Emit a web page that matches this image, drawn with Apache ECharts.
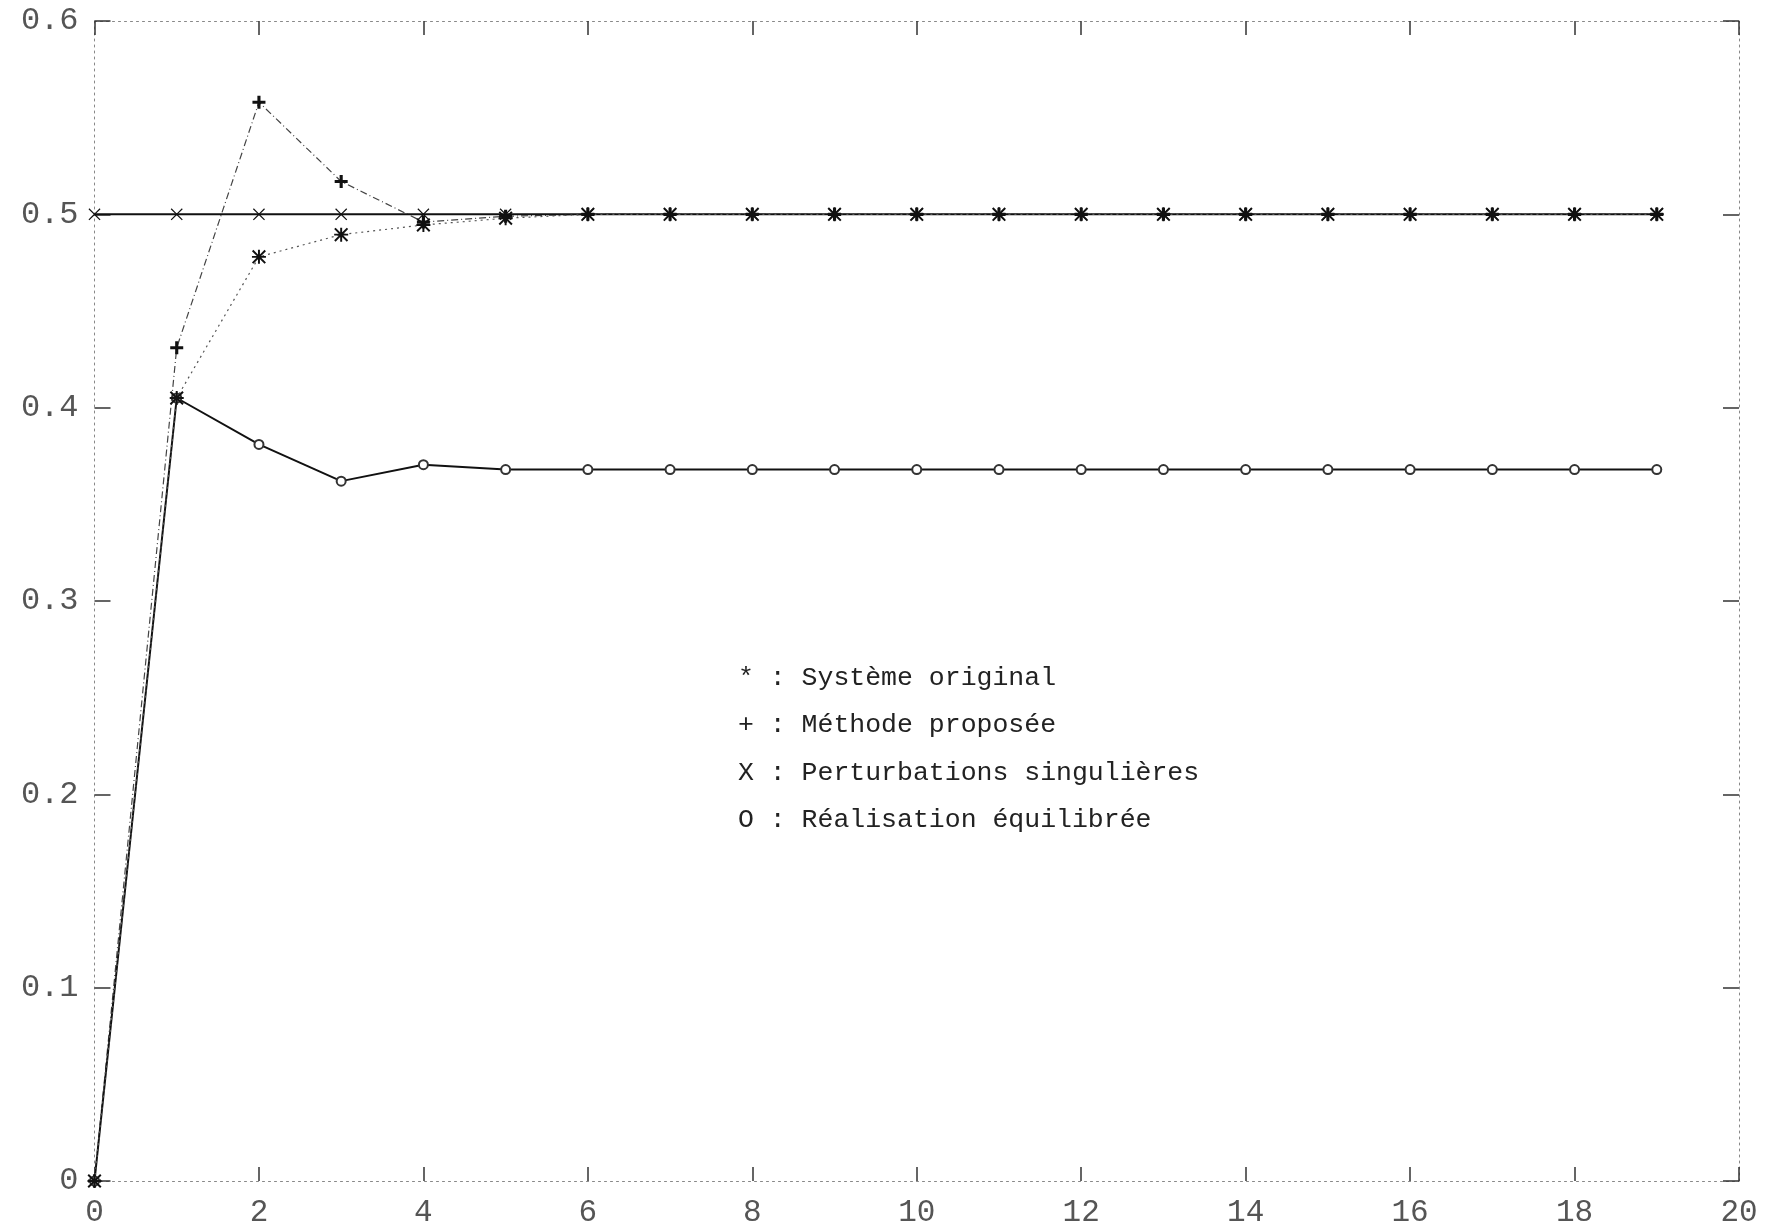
<!DOCTYPE html>
<html>
<head>
<meta charset="utf-8">
<script src="https://cdn.jsdelivr.net/npm/echarts@6/dist/echarts.min.js"></script>
<style>
  html, body { margin: 0; padding: 0; background: #fff; }
  #chart { width: 1766px; height: 1231px; }
</style>
</head>
<body>
<div id="chart"></div>
<script>
// ---- Data ----
const steps = [0, 1, 2, 3, 4, 5, 6, 7, 8, 9, 10, 11, 12, 13, 14, 15, 16, 17, 18, 19];
const systemeOriginal = [0, 0.405, 0.478, 0.4895, 0.4945, 0.498, 0.5, 0.5, 0.5, 0.5, 0.5, 0.5, 0.5, 0.5, 0.5, 0.5, 0.5, 0.5, 0.5, 0.5];
const methodeProposee = [0, 0.431, 0.558, 0.517, 0.496, 0.499, 0.5, 0.5, 0.5, 0.5, 0.5, 0.5, 0.5, 0.5, 0.5, 0.5, 0.5, 0.5, 0.5, 0.5];
const perturbations   = [0.5, 0.5, 0.5, 0.5, 0.5, 0.5, 0.5, 0.5, 0.5, 0.5, 0.5, 0.5, 0.5, 0.5, 0.5, 0.5, 0.5, 0.5, 0.5, 0.5];
const realisation     = [0, 0.405, 0.381, 0.362, 0.3705, 0.368, 0.368, 0.368, 0.368, 0.368, 0.368, 0.368, 0.368, 0.368, 0.368, 0.368, 0.368, 0.368, 0.368, 0.368];
const xTickLabels = ['0', '2', '4', '6', '8', '10', '12', '14', '16', '18', '20'];
const yTickLabels = ['0', '0.1', '0.2', '0.3', '0.4', '0.5', '0.6'];
const legendLabels = [
  '* : Système original',
  '+ : Méthode proposée',
  'X : Perturbations singulières',
  'O : Réalisation équilibrée'
];

function pairs(vals) { return steps.map((x, i) => [x, vals[i]]); }

const STAR = 'path://M4.3,0 L5.7,0 L5.7,10 L4.3,10 Z M0,1 L1,0 L5,4 L9,0 L10,1 L6,5 L10,9 L9,10 L5,6 L1,10 L0,9 L4,5 Z M0,4.3 L10,4.3 L10,5.7 L0,5.7 Z';
const PLUS = 'path://M3.8,0 L6.2,0 L6.2,3.8 L10,3.8 L10,6.2 L6.2,6.2 L6.2,10 L3.8,10 L3.8,6.2 L0,6.2 L0,3.8 L3.8,3.8 Z';
const XMARK = 'path://M0,0.7 L0.7,0 L5,4.3 L9.3,0 L10,0.7 L5.7,5 L10,9.3 L9.3,10 L5,5.7 L0.7,10 L0,9.3 L4.3,5 Z';

const FONT = '"Liberation Mono", "DejaVu Sans Mono", monospace';
const axisLineStyle = { color: '#888', width: 1, type: [2, 4] };
const tickStyle = { color: '#333', width: 1.5 };

const chart = echarts.init(document.getElementById('chart'), null, { renderer: 'canvas' });

const option = {
  backgroundColor: '#ffffff',
  animation: false,
  grid: { left: 94.5, right: 27, top: 21, bottom: 50 },
  xAxis: [
    {
      type: 'value', min: 0, max: 20, interval: 2, position: 'bottom',
      axisLine: { show: true, onZero: false, lineStyle: axisLineStyle },
      axisTick: { show: true, inside: true, length: 14, lineStyle: tickStyle },
      splitLine: { show: false },
      axisLabel: {
        margin: 16, fontFamily: FONT, fontSize: 31, color: '#555',
        formatter: (v) => xTickLabels[Math.round(v / 2)]
      }
    },
    {
      type: 'value', min: 0, max: 20, interval: 2, position: 'top',
      axisLine: { show: true, onZero: false, lineStyle: axisLineStyle },
      axisTick: { show: true, inside: true, length: 14, lineStyle: tickStyle },
      splitLine: { show: false },
      axisLabel: { show: false }
    }
  ],
  yAxis: [
    {
      type: 'value', min: 0, max: 0.6, interval: 0.1, position: 'left',
      axisLine: { show: true, onZero: false, lineStyle: axisLineStyle },
      axisTick: { show: true, inside: true, length: 16, lineStyle: tickStyle },
      splitLine: { show: false },
      axisLabel: {
        margin: 16, fontFamily: FONT, fontSize: 32, color: '#555',
        formatter: (v) => yTickLabels[Math.round(v * 10)]
      }
    },
    {
      type: 'value', min: 0, max: 0.6, interval: 0.1, position: 'right',
      axisLine: { show: true, onZero: false, lineStyle: axisLineStyle },
      axisTick: { show: true, inside: true, length: 16, lineStyle: tickStyle },
      splitLine: { show: false },
      axisLabel: { show: false }
    }
  ],
  series: [
    {
      name: 'Méthode proposée', type: 'line', data: pairs(methodeProposee),
      symbol: PLUS, symbolSize: 13, showAllSymbol: true,
      lineStyle: { color: '#444', width: 1.2, type: [7, 3, 1, 3] },
      itemStyle: { color: '#111' }, z: 2
    },
    {
      name: 'Perturbations singulières', type: 'line', data: pairs(perturbations),
      symbol: XMARK, symbolSize: 12, showAllSymbol: true,
      lineStyle: { color: '#111', width: 2 },
      itemStyle: { color: '#111' }, z: 4
    },
    {
      name: 'Réalisation équilibrée', type: 'line', data: pairs(realisation),
      symbol: 'emptyCircle', symbolSize: 9, showAllSymbol: true,
      lineStyle: { color: '#111', width: 2 },
      itemStyle: { color: '#333', borderWidth: 1, borderColor: '#333' }, z: 5
    },
    {
      name: 'Système original', type: 'line', data: pairs(systemeOriginal),
      symbol: STAR, symbolSize: 14, showAllSymbol: true,
      lineStyle: { color: '#555', width: 1.2, type: [2, 4] },
      itemStyle: { color: '#111' }, z: 6
    }
  ],
  graphic: legendLabels.map((t, i) => ({
    type: 'text',
    left: 738,
    top: 664 + i * 47.6,
    style: { text: t, font: '26.5px ' + FONT, fill: '#222' }
  }))
};

chart.setOption(option);
</script>
</body>
</html>
